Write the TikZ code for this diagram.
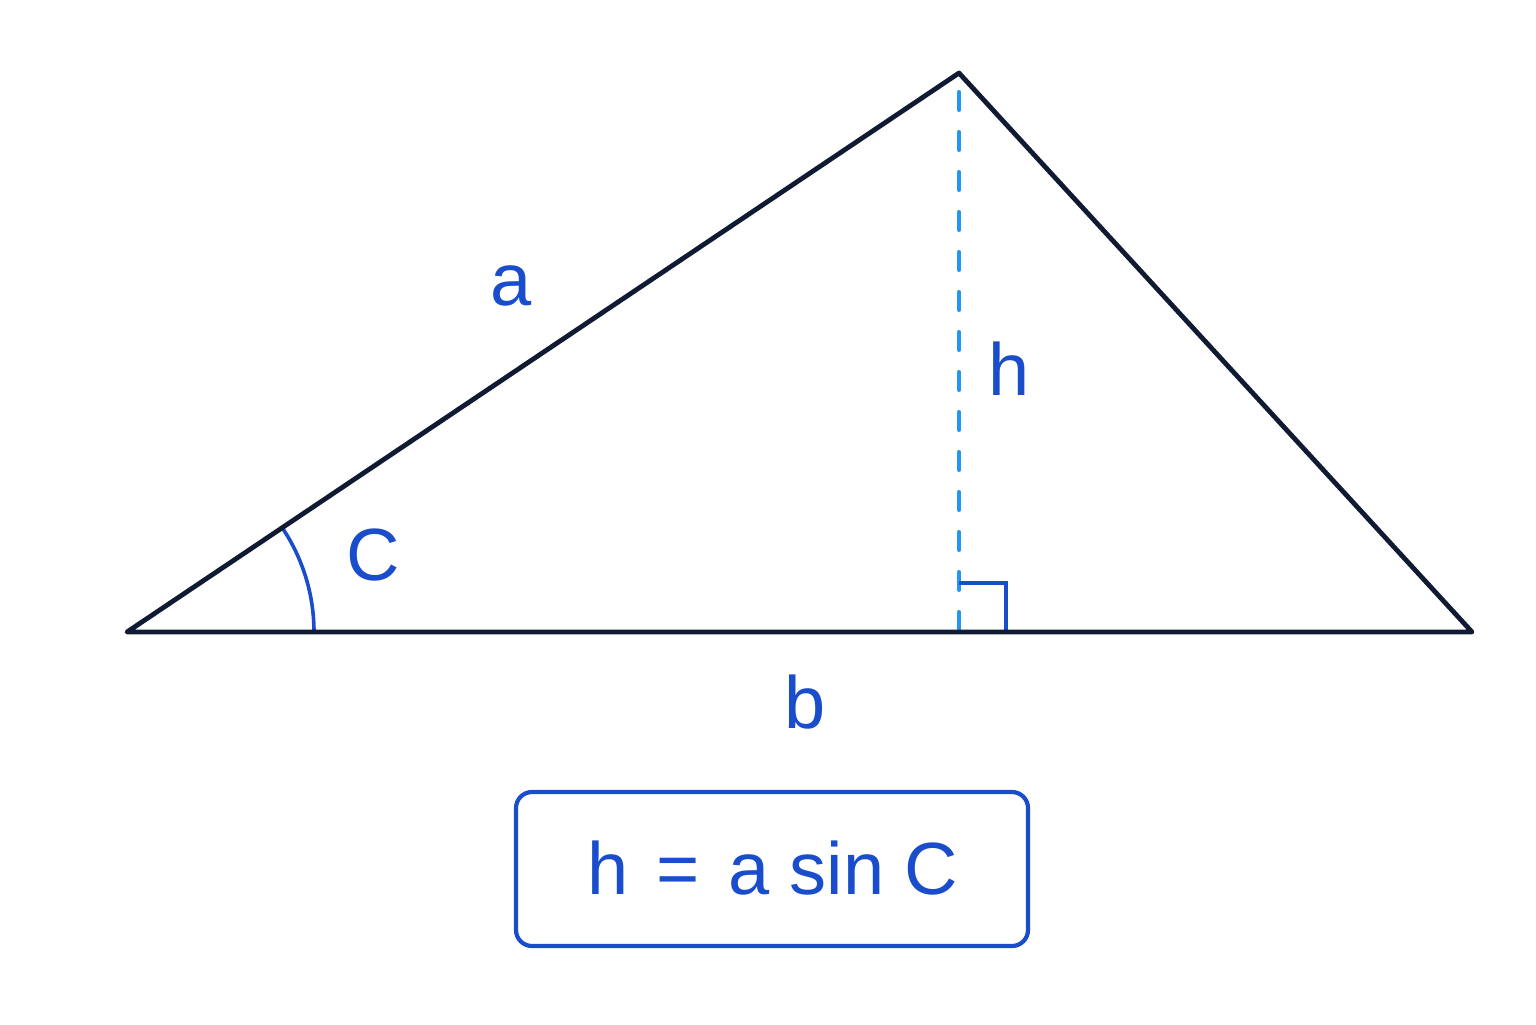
\documentclass[tikz,border=0pt]{standalone}
\usepackage{fontspec}
\setmainfont{Liberation Sans}
\definecolor{navy}{HTML}{111A33}
\definecolor{lblue}{HTML}{1A4DCC}
\definecolor{dblue}{HTML}{2196F3}
\begin{document}
\begin{tikzpicture}[x=0.5pt,y=-0.5pt,
  side/.style={draw=navy,line width=2.4pt,line join=round,line cap=round},
  lbl/.style={text=lblue,font=\fontsize{37}{42}\selectfont,anchor=base,inner sep=0pt},
  alt/.style={draw=dblue,line width=2pt,line cap=round,dash pattern=on 9pt off 11pt},
  anglemark/.style={draw=lblue,line width=1.8pt}]
\useasboundingbox (0,0) rectangle (1536,1024);
\coordinate (A) at (127,632);
\coordinate (B) at (959,79);
\coordinate (Cc) at (1472,632);
\coordinate (F) at (959,630);
\draw[alt] (F) -- (B);
\draw[anglemark] (959,583) -- (1006,583) -- (1006,632);
\draw[anglemark] (A) ++(0:187) arc[start angle=0,end angle=-33.9,radius=187];
\draw[side] (A) -- (959,73) -- (Cc) -- cycle;
\node[lbl] (la) at (511,305) {a};
\node[lbl] (lb) at (805,728) {b};
\node[lbl] (lh) at (1009,395) {h};
\node[lbl] (lc) at (373,580) {C};
\draw[draw=lblue,line width=2.1pt,rounded corners=8pt] (516,792) rectangle (1028,946);
\node[lbl] (f) at (773,894) {h\hspace{0.38em}=\hspace{0.38em}a sin C};
\end{tikzpicture}
\end{document}
